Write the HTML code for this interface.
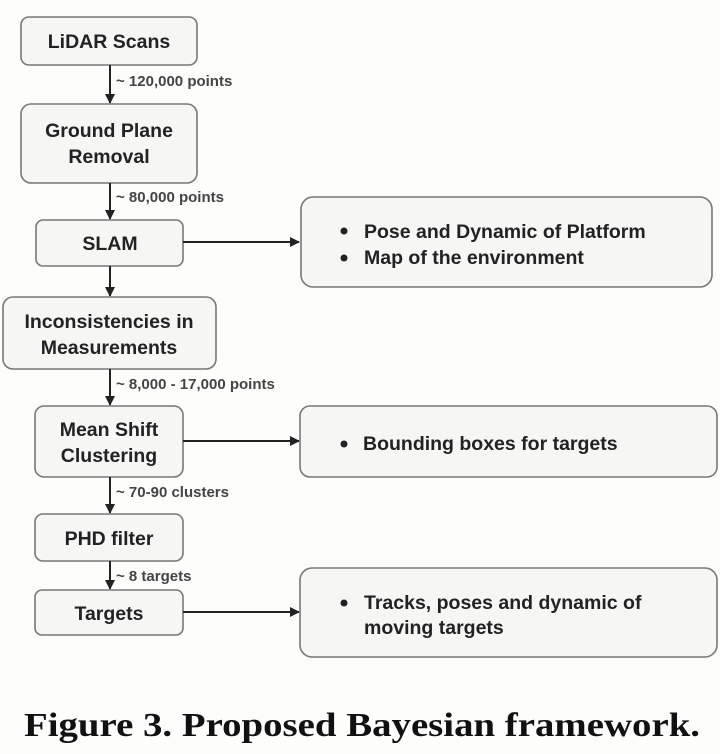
<!DOCTYPE html>
<html><head><meta charset="utf-8"><style>
body{margin:0;background:#fdfdfc;}
svg{display:block}
.b{fill:#f6f6f5;stroke:#777;stroke-width:1.6}
.t{font-family:"Liberation Sans",sans-serif;font-weight:bold;font-size:19.5px;fill:#222;text-anchor:middle}
.r{font-family:"Liberation Sans",sans-serif;font-weight:bold;font-size:19.5px;fill:#222}
.l{font-family:"Liberation Sans",sans-serif;font-weight:bold;font-size:15px;fill:#444}
.a{stroke:#222;stroke-width:2;fill:none}
</style></head><body>
<svg width="720" height="754" viewBox="0 0 720 754">
<defs><marker id="m" markerWidth="10" markerHeight="10" refX="9" refY="5" orient="auto" markerUnits="userSpaceOnUse"><path d="M0,0 L10,5 L0,10 Z" fill="#222"/></marker></defs>
<rect class="b" x="21" y="17" width="176" height="48" rx="8"/>
<text class="t" x="109" y="48">LiDAR Scans</text>
<line class="a" x1="110" y1="65" x2="110" y2="103" marker-end="url(#m)"/>
<text class="l" x="116" y="86">~ 120,000 points</text>
<rect class="b" x="21" y="104" width="176" height="79" rx="10"/>
<text class="t" x="109" y="137">Ground Plane</text>
<text class="t" x="109" y="163">Removal</text>
<line class="a" x1="110" y1="183" x2="110" y2="219" marker-end="url(#m)"/>
<text class="l" x="116" y="202">~ 80,000 points</text>
<rect class="b" x="36" y="220" width="147" height="46" rx="7"/>
<text class="t" x="110" y="250">SLAM</text>
<line class="a" x1="183" y1="242" x2="299" y2="242" marker-end="url(#m)"/>
<rect class="b" x="301" y="197" width="411" height="90" rx="12"/>
<circle cx="344" cy="231" r="3.5" fill="#222"/><circle cx="344" cy="258" r="3.5" fill="#222"/>
<text class="r" x="364" y="238">Pose and Dynamic of Platform</text>
<text class="r" x="364" y="264">Map of the environment</text>
<line class="a" x1="110" y1="266" x2="110" y2="296" marker-end="url(#m)"/>
<rect class="b" x="3" y="297" width="213" height="72" rx="10"/>
<text class="t" x="109" y="328">Inconsistencies in</text>
<text class="t" x="109" y="354">Measurements</text>
<line class="a" x1="110" y1="369" x2="110" y2="405" marker-end="url(#m)"/>
<text class="l" x="116" y="389">~ 8,000 - 17,000 points</text>
<rect class="b" x="35" y="406" width="148" height="71" rx="9"/>
<text class="t" x="109" y="436">Mean Shift</text>
<text class="t" x="109" y="462">Clustering</text>
<line class="a" x1="183" y1="441" x2="299" y2="441" marker-end="url(#m)"/>
<rect class="b" x="300" y="406" width="417" height="71" rx="10"/>
<circle cx="344" cy="444" r="3.5" fill="#222"/>
<text class="r" x="363" y="450">Bounding boxes for targets</text>
<line class="a" x1="110" y1="477" x2="110" y2="513" marker-end="url(#m)"/>
<text class="l" x="116" y="497">~ 70-90 clusters</text>
<rect class="b" x="35" y="514" width="148" height="47" rx="8"/>
<text class="t" x="109" y="545">PHD filter</text>
<line class="a" x1="110" y1="561" x2="110" y2="589" marker-end="url(#m)"/>
<text class="l" x="116" y="581">~ 8 targets</text>
<rect class="b" x="35" y="590" width="148" height="45" rx="7"/>
<text class="t" x="109" y="620">Targets</text>
<line class="a" x1="183" y1="612" x2="299" y2="612" marker-end="url(#m)"/>
<rect class="b" x="300" y="568" width="417" height="89" rx="12"/>
<circle cx="344" cy="603" r="3.5" fill="#222"/>
<text class="r" x="364" y="609">Tracks, poses and dynamic of</text>
<text class="r" x="364" y="634">moving targets</text>
<text x="24" y="736" font-family="Liberation Serif,serif" font-size="34" font-weight="bold" fill="#111" textLength="676" lengthAdjust="spacingAndGlyphs">Figure 3.  Proposed Bayesian framework.</text>
</svg>
</body></html>
